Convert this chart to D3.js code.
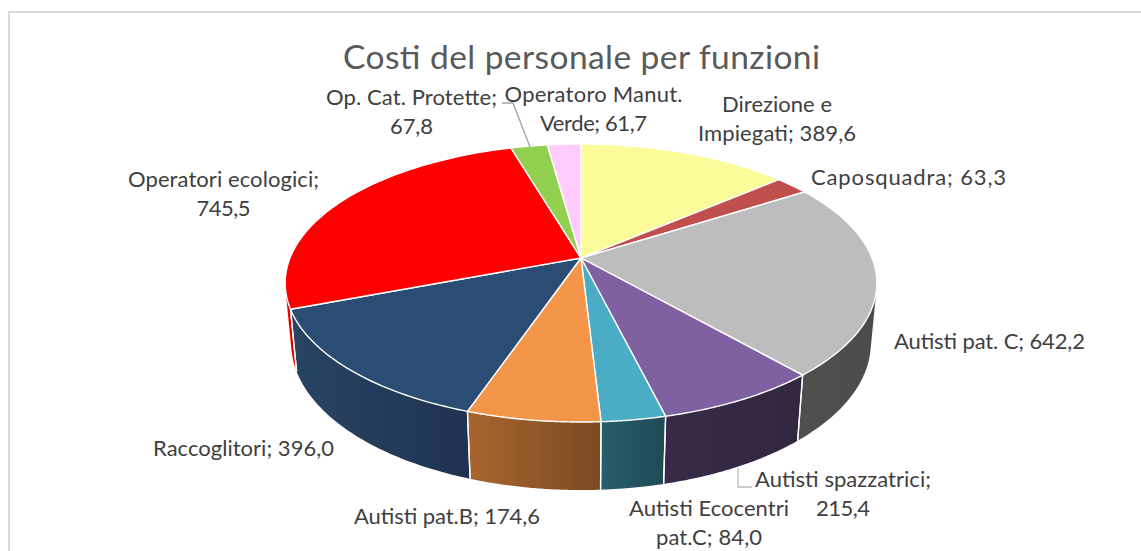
<!DOCTYPE html>
<html><head><meta charset="utf-8">
<script src="https://cdn.jsdelivr.net/npm/d3@7/dist/d3.min.js"></script>
<style>html,body{margin:0;padding:0;background:#fff}svg{display:block}</style>
</head><body><svg id="c" width="1141" height="551"></svg>
<script>
const title = "Costi del personale per funzioni";
const categories = ["Direzione e Impiegati","Caposquadra","Autisti pat. C","Autisti spazzatrici","Autisti Ecocentri pat.C","Autisti pat.B","Raccoglitori","Operatori ecologici","Op. Cat. Protette","Operatoro Manut. Verde"];
const values = [389.6,63.3,642.2,215.4,84.0,174.6,396.0,745.5,67.8,61.7];
const topColors = ["#FBFB99","#C0504D","#BDBDBD","#7F60A0","#4BACC6","#F4964A","#2B4C73","#FF0000","#92D050","#FFCCFF"];
const wallFrom = ["#b0b070","#8a3a38","#4f4f4f","#382b4a","#285f6c","#a9652f","#284462","#e60000","#6a9a3a","#c090c0"];
const wallTo   = ["#b0b070","#8a3a38","#4c4c4c","#32263f","#1f4a55","#794a22","#1f3351","#e60000","#6a9a3a","#c090c0"];
const labelLines = [["Direzione e","Impiegati; 389,6"],["Caposquadra; 63,3"],["Autisti pat. C; 642,2"],["Autisti spazzatrici;","215,4"],["Autisti Ecocentri","pat.C; 84,0"],["Autisti pat.B; 174,6"],["Raccoglitori; 396,0"],["Operatori ecologici;","745,5"],["Op. Cat. Protette;","67,8"],["Operatoro Manut.","Verde; 61,7"]];
const labelWidths = [[110,158],[195],[191],[176,54],[160,106],[186],[181],[191,54],[171,43],[178,107]];
const labelPos = [[777,112],[908.5,185],[989.5,349],[843,487],[709,516],[447,524],[243.5,456],[223.5,187],[411.5,105],[593.5,102]];
const leaders = [[[502,103],[513,103],[530,147],"#a6a6a6"],[[738,468],[738,487],[752,487],"#bfbfbf"]];

const svg = d3.select("#c");
const defs = svg.append("defs");
const cx=581, cy=258, a=291, b=134.5, k=0.18, d=60.4, m=0.02;
const proj=(t,low)=>{const u=Math.sin(t),v=-Math.cos(t),w=1-k*v+(low?m:0);
  return [cx+a*u/w, cy+(b*v+(low?d:0))/w];};
const pie=d3.pie().sort(null).value(v=>v)(values);
const line=d3.line().x(p=>p[0]).y(p=>p[1]);
const samples=(s,e)=>d3.range(0,61).map(i=>s+(e-s)*i/60);

svg.append("rect").attr("x",9).attr("y",12).attr("width",1300).attr("height",700)
  .attr("fill","#fff").attr("stroke","#d9d9d9").attr("stroke-width",2);

const order=pie.map((p,i)=>({p,i,mid:-Math.cos((p.startAngle+p.endAngle)/2)})).sort((x,y)=>x.mid-y.mid);
const walls=svg.append("g"), seams=svg.append("g"), tops=svg.append("g");
order.forEach(({p,i})=>{
  const ts=samples(p.startAngle,p.endAngle);
  const up=ts.map(t=>proj(t,false)), lo=ts.map(t=>proj(t,true));
  const x0=d3.min(up,q=>q[0]),x1=d3.max(up,q=>q[0]);
  const g=defs.append("linearGradient").attr("id","w"+i).attr("gradientUnits","userSpaceOnUse")
    .attr("x1",x0).attr("x2",x1).attr("y1",0).attr("y2",0);
  g.append("stop").attr("offset",0).attr("stop-color",wallFrom[i]);
  g.append("stop").attr("offset",1).attr("stop-color",wallTo[i]);
  const quads=d3.range(ts.length-1).map(n=>{
    const q=[up[n],up[n+1],lo[n+1],lo[n]];
    return line(d3.polygonArea(q)<0?q.slice().reverse():q)+"Z";
  }).join("");
  walls.append("path").attr("d",quads).attr("fill",`url(#w${i})`).attr("fill-rule","nonzero");
  [0,ts.length-1].forEach(n=>{
    seams.append("path").attr("d",line([up[n],lo[n]])).attr("fill","none")
      .attr("stroke","#fff").attr("stroke-width",1.3);
  });
});
pie.forEach((p,i)=>{
  const pts=[[cx,cy]].concat(samples(p.startAngle,p.endAngle).map(t=>proj(t,false)));
  tops.append("path").attr("d",line(pts)+"Z").attr("fill",topColors[i])
    .attr("stroke","#fff").attr("stroke-width",1.4).attr("stroke-linejoin","round");
});

svg.append("g").selectAll("path").data(leaders).join("path").attr("d",l=>line(l.slice(0,3)))
  .attr("fill","none").attr("stroke",l=>l[3]).attr("stroke-width",1.4);

svg.append("text").attr("x",581.5).attr("y",69).attr("text-anchor","middle")
  .attr("font-family","Lato").attr("font-weight",400).attr("font-size",33.5).attr("fill","#595959")
  .attr("textLength",477).attr("lengthAdjust","spacing").text(title);

const lab=svg.append("g").attr("font-family","Lato").attr("font-size",22).attr("fill","#404040").attr("text-anchor","middle");
labelLines.forEach((ls,i)=>{
  ls.forEach((s,j)=>lab.append("text").attr("x",labelPos[i][0]).attr("y",labelPos[i][1]+j*28.5)
    .attr("textLength",labelWidths[i][j]).attr("lengthAdjust","spacing").text(s));
});
</script></body></html>
